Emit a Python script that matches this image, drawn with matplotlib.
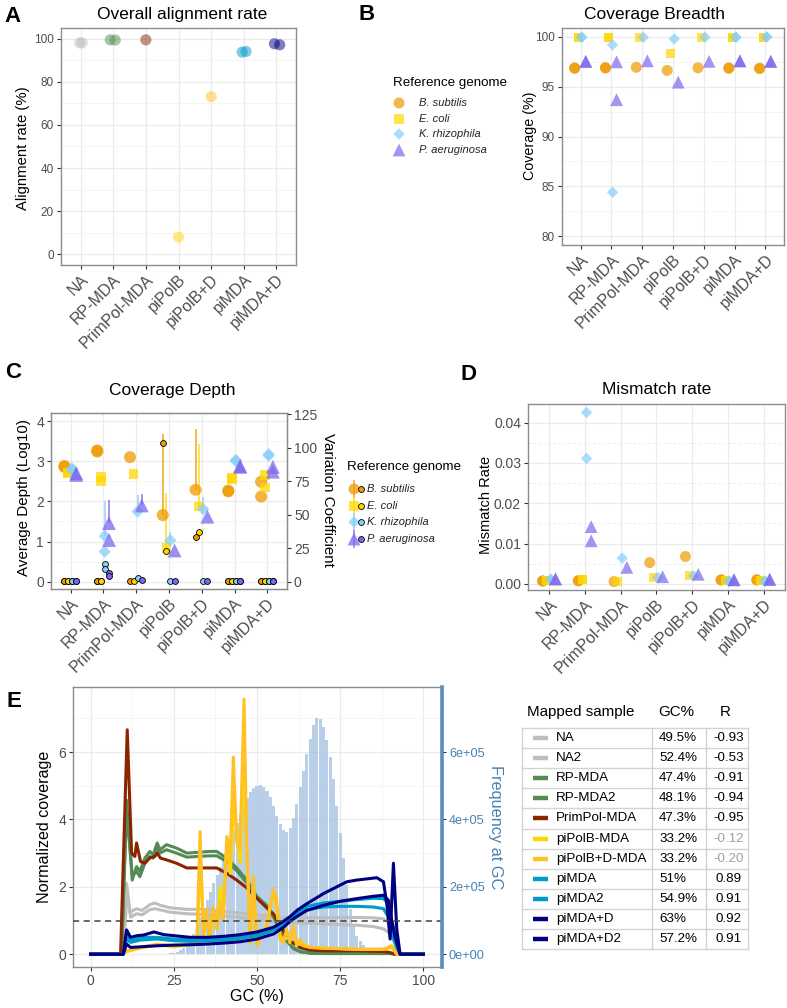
import matplotlib
matplotlib.use('Agg')
import matplotlib.pyplot as plt
from matplotlib.ticker import MultipleLocator
import numpy as np

plt.rcParams['font.family'] = ['Liberation Sans', 'DejaVu Sans']

W, H = 787, 1008
TICK_GREY = '#4D4D4D'
BORDER = '#8C8C8C'

# ---- shared categories ----
categories = ['NA', 'RP-MDA', 'PrimPol-MDA', 'piPolB', 'piPolB+D', 'piMDA', 'piMDA+D']
method_colors = ['#BEBEBE', '#548B54', '#8B2500', '#FFD700', '#FFC125', '#009ACD', '#000080']

species = ['B. subtilis', 'E. coli', 'K. rhizophila', 'P. aeruginosa']
species_colors = ['#EE9A00', '#FFD700', '#87CEFA', '#7B68EE']
species_markers = ['o', 's', 'D', '^']
dodge = [-0.19, -0.08, 0.04, 0.17]

# ---- A: overall alignment rate (replicates per method) ----
align_rate = [[98.1, 98.1], [99.5, 99.4], [99.5], [7.9], [73.1], [93.8, 94.1], [97.7, 97.2]]
align_jitter = [[-0.03, 0.05], [-0.09, 0.06], [0.0], [0.0], [0.0], [-0.05, 0.07], [-0.06, 0.1]]

# ---- B: coverage breadth (%) ----
breadth_bsub = [[96.87, 96.87], [96.9, 96.9], [96.95], [96.64], [96.9], [96.87, 96.87], [96.84, 96.84]]
breadth_ecoli = [[99.97, 99.97], [99.9, 99.9], [99.9], [98.29], [99.97], [99.97, 99.97], [99.9, 99.9]]
breadth_krhiz = [[99.97, 99.97], [99.2, 84.4], [99.97], [99.8], [99.97], [99.97, 99.97], [100.0, 100.0]]
breadth_paer = [[97.55, 97.55], [97.5, 93.7], [97.6], [95.46], [97.55], [97.6, 97.6], [97.55, 97.55]]

# ---- C: coverage depth (log10) with upper range, and variation coefficient ----
depth_bsub = [[2.88, 2.86], [3.27, 3.24], [3.10], [1.66], [2.29], [2.27, 2.25], [2.49, 2.12]]
depth_ecoli = [[2.72, 2.70], [2.60, 2.50], [2.68], [0.84], [1.87], [2.58, 2.56], [2.66, 2.35]]
depth_krhiz = [[2.82, 2.78], [1.14, 0.75], [1.75], [1.03], [1.81], [3.03, 3.00], [3.17, 3.14]]
depth_paer = [[2.70, 2.66], [1.46, 1.04], [1.90], [0.78], [1.62], [2.88, 2.86], [2.86, 2.74]]

depth_hi_bsub = [[None, None], [None, None], [None], [3.68], [3.80], [None, None], [None, None]]
depth_hi_ecoli = [[None, None], [None, None], [None], [2.20], [3.44], [None, None], [None, None]]
depth_hi_krhiz = [[None, None], [2.02, None], [2.16], [1.25], [2.12], [None, None], [None, None]]
depth_hi_paer = [[None, None], [2.04, None], [2.19], [None], [None], [None, None], [None, None]]

cv_bsub = [[0.3, 0.3], [0.3, 0.3], [0.3], [103.4], [33.3], [0.8, 0.5], [0.3, 0.3]]
cv_ecoli = [[0.3, 0.3], [0.3, 0.3], [0.3], [23.0], [37.5], [0.4, 0.4], [0.3, 0.3]]
cv_krhiz = [[0.3, 0.3], [13.4, 9.5], [2.7], [0.5], [0.8], [0.3, 0.3], [0.3, 0.3]]
cv_paer = [[0.3, 0.3], [6.9, 4.0], [1.5], [0.6], [0.6], [0.3, 0.3], [0.3, 0.3]]

# ---- D: mismatch rate ----
mismatch_bsub = [[0.00074, 0.00074], [0.0008, 0.0008], [0.0006], [0.0053], [0.0068], [0.001, 0.001], [0.001, 0.001]]
mismatch_ecoli = [[0.0009, 0.0009], [0.001, 0.001], [0.0007], [0.0016], [0.0022], [0.0008, 0.0008], [0.0008, 0.0008]]
mismatch_krhiz = [[0.0012, 0.0011], [0.0425, 0.0311], [0.0064], [0.0016], [0.002], [0.0006, 0.0007], [0.0006, 0.0007]]
mismatch_paer = [[0.0013, 0.0012], [0.0142, 0.0107], [0.0041], [0.0018], [0.0024], [0.001, 0.0011], [0.0012, 0.0011]]

# ---- E: GC bias ----
gc_bins = list(range(20, 87))
freq_at_gc = [0, 1000, 1000, 2000, 3000, 5000, 8000, 12000, 18000, 28000,
              42000, 60000, 85000, 110000, 135000, 160000, 185000, 210000, 235000, 260000,
              285000, 310000, 335000, 365000, 390000, 415000, 440000, 465000, 480000, 492000,
              500000, 502000, 496000, 485000, 468000, 440000, 410000, 385000, 368000, 364000,
              375000, 405000, 445000, 495000, 545000, 595000, 640000, 680000, 700000, 698000,
              675000, 635000, 585000, 520000, 440000, 360000, 285000, 205000, 135000, 85000,
              55000, 38000, 26000, 17000, 10000, 5000, 2000]

gc_NA = [0, 9.5, 10.8, 11.8, 13.8, 15.5, 17.8, 19.3, 21, 23.8, 28.9, 33.9, 38.9, 43.9, 48.9, 53, 57, 60, 65, 70, 75, 80, 85, 88, 89.5, 91, 92.5, 100]
cov_NA = [0, 0, 2.1, 1.25, 1.35, 1.3, 1.47, 1.52, 1.45, 1.38, 1.33, 1.33, 1.28, 1.23, 1.18, 1.12, 1.08, 1.07, 1.08, 1.08, 1.09, 1.09, 1.08, 1.05, 0.95, 0.6, 0, 0]
gc_NA2 = [0, 9.8, 11, 12, 13.8, 15.5, 17.8, 19.3, 23.8, 28.9, 33.9, 38.9, 43.9, 48.9, 53, 57, 60, 65, 70, 75, 80, 85, 88, 90, 91.5, 92.5, 100]
cov_NA2 = [0, 0, 1.9, 1.1, 1.2, 1.17, 1.32, 1.35, 1.25, 1.2, 1.18, 1.15, 1.1, 1.05, 1.0, 0.95, 0.93, 0.92, 0.9, 0.88, 0.86, 0.82, 0.75, 0.62, 0.3, 0, 0]
gc_RP = [0, 9.3, 10.8, 12.5, 13.8, 14.8, 16.3, 17.8, 18.8, 20.0, 20.8, 22.8, 25.8, 28.9, 31.9, 35.9, 37.9, 40.9, 43.9, 46.9, 49.9, 52.9, 55, 57, 59, 61, 63, 66, 70, 80, 90, 92, 100]
cov_RP = [0, 0, 4.57, 2.2, 2.6, 2.46, 2.85, 3.05, 2.95, 3.3, 3.1, 3.25, 3.15, 3.0, 3.02, 3.05, 3.05, 2.85, 2.56, 2.2, 1.72, 1.45, 1.15, 0.75, 0.4, 0.18, 0.08, 0.03, 0.02, 0.02, 0.02, 0, 0]
cov_RP2 = [0, 0, 4.3, 2.35, 2.45, 2.3, 2.7, 2.9, 2.85, 3.15, 3.0, 3.1, 3.0, 2.88, 2.9, 2.92, 2.92, 2.75, 2.48, 2.12, 1.68, 1.4, 1.1, 0.7, 0.38, 0.16, 0.07, 0.03, 0.02, 0.02, 0.02, 0, 0]
gc_PP = [0, 9.0, 11.0, 12.3, 13.3, 13.8, 15.0, 16.3, 17.8, 19.3, 20.0, 21.0, 22.8, 25.8, 28.9, 33.9, 37.9, 40.9, 43.9, 46.9, 49.9, 52.9, 54.9, 56.9, 59.9, 62.9, 66, 70, 80, 88, 90, 91.5, 92.5, 100]
cov_PP = [0, 0, 6.66, 3.0, 2.9, 3.3, 2.75, 2.7, 2.86, 2.9, 3.0, 2.85, 2.8, 2.7, 2.56, 2.56, 2.56, 2.4, 2.2, 1.97, 1.67, 1.38, 1.2, 0.85, 0.4, 0.2, 0.12, 0.1, 0.1, 0.08, 0.05, 0, 0, 0]
gc_PB = [0, 9.5, 11, 15, 20, 25, 30, 32, 33, 34, 35, 36, 37, 38, 39, 40, 41, 42, 43, 44, 45, 46, 47, 48, 49, 50, 51, 53, 54, 55, 56, 57, 58, 60, 61, 62, 64, 66, 70, 80, 88, 90.5, 92, 100]
cov_PB = [0, 0, 0.08, 0.18, 0.28, 0.22, 0.28, 0.4, 2.8, 0.6, 1.1, 0.6, 1.2, 0.9, 2.0, 1.4, 3.45, 2.4, 4.6, 3.6, 2.7, 6.0, 2.9, 0.5, 1.9, 0.4, 0.5, 0.9, 1.5, 1.8, 1.3, 0.5, 0.45, 0.5, 0.7, 0.3, 0.3, 0.2, 0.18, 0.14, 0.14, 0.2, 0, 0]
gc_PBD = [0, 9.5, 11, 15, 20, 25, 30, 31.9, 32.9, 33.9, 34.9, 35.7, 36.9, 37.9, 38.9, 39.9, 40.9, 41.9, 42.9, 43.9, 44.9, 46.1, 46.9, 47.9, 48.9, 49.9, 50.9, 52.9, 53.9, 54.9, 55.9, 56.9, 57.9, 58.9, 59.9, 60.9, 61.9, 62.9, 63.9, 66, 70, 80, 88, 90.5, 92, 100]
cov_PBD = [0, 0, 0.1, 0.2, 0.3, 0.25, 0.3, 0.35, 3.64, 0.49, 1.33, 0.5, 1.38, 0.74, 1.52, 1.03, 3.49, 2.8, 5.85, 3.3, 3.1, 7.57, 3.3, 0.34, 2.31, 0.25, 0.44, 0.74, 1.33, 1.92, 1.62, 0.44, 0.34, 0.74, 0.34, 0.84, 0.25, 0.44, 0.25, 0.2, 0.18, 0.15, 0.15, 0.25, 0, 0]
gc_PI = [0, 9.8, 10.8, 12, 15, 20, 25, 30, 35, 40, 45, 50, 53, 56, 58, 60, 62, 65, 70, 75, 80, 85, 88, 89.5, 90.5, 92, 93, 100]
cov_PI = [0, 0, 0.55, 0.4, 0.5, 0.5, 0.45, 0.43, 0.45, 0.48, 0.52, 0.6, 0.68, 0.8, 0.92, 1.08, 1.25, 1.42, 1.52, 1.57, 1.62, 1.66, 1.65, 1.5, 1.0, 0.4, 0, 0]
cov_PI2 = [0, 0, 0.45, 0.35, 0.42, 0.45, 0.4, 0.38, 0.4, 0.42, 0.47, 0.55, 0.64, 0.76, 0.88, 1.02, 1.18, 1.32, 1.4, 1.42, 1.42, 1.4, 1.35, 1.1, 0.6, 0.2, 0, 0]
gc_PID = [0, 9.8, 10.8, 12, 14, 16, 19, 22, 25, 30, 35, 40, 45, 50, 55, 58, 60, 62, 65, 70, 75, 77, 80, 86, 88, 89, 90, 91, 92, 93, 100]
cov_PID = [0, 0, 0.72, 0.5, 0.55, 0.57, 0.66, 0.58, 0.55, 0.5, 0.5, 0.53, 0.58, 0.66, 0.8, 0.98, 1.12, 1.3, 1.5, 1.8, 2.05, 2.15, 2.2, 2.27, 2.15, 1.5, 0.45, 2.7, 0.75, 0, 0]
gc_PID2 = [0, 9.8, 10.8, 12, 15, 20, 25, 30, 35, 40, 45, 50, 55, 58, 60, 62, 65, 70, 75, 80, 85, 88, 89.5, 90.5, 91.5, 93, 100]
cov_PID2 = [0, 0, 0.3, 0.2, 0.22, 0.25, 0.27, 0.28, 0.3, 0.33, 0.37, 0.45, 0.6, 0.8, 0.98, 1.12, 1.3, 1.45, 1.57, 1.65, 1.72, 1.75, 1.6, 1.0, 0.5, 0, 0]

table_samples = ['NA', 'NA2', 'RP-MDA', 'RP-MDA2', 'PrimPol-MDA', 'piPolB-MDA', 'piPolB+D-MDA', 'piMDA', 'piMDA2', 'piMDA+D', 'piMDA+D2']
table_gc = ['49.5%', '52.4%', '47.4%', '48.1%', '47.3%', '33.2%', '33.2%', '51%', '54.9%', '63%', '57.2%']
table_r = ['-0.93', '-0.53', '-0.91', '-0.94', '-0.95', '-0.12', '-0.20', '0.89', '0.91', '0.92', '0.91']
sample_colors = ['#BEBEBE', '#BEBEBE', '#548B54', '#548B54', '#8B2500', '#FFD700', '#FFC125', '#009ACD', '#009ACD', '#000080', '#000080']


def px_axes(fig, left, top, right, bottom):
    return fig.add_axes([left / W, 1 - bottom / H, (right - left) / W, (bottom - top) / H])


def style_panel(ax, ysize):
    for s in ax.spines.values():
        s.set_color(BORDER)
        s.set_linewidth(1.0)
    ax.grid(True, which='major', color='#EBEBEB', lw=0.9)
    ax.grid(True, which='minor', color='#F4F4F4', lw=0.6)
    ax.set_axisbelow(True)
    ax.tick_params(colors='#333333', labelcolor=TICK_GREY, labelsize=ysize, length=3, width=0.8, pad=2)
    ax.tick_params(which='minor', length=0)


def category_axis(ax):
    ax.set_xlim(0.4, 7.6)
    ax.set_xticks(np.arange(1, len(categories) + 1))
    ax.set_xticklabels(categories, rotation=45, ha='right', rotation_mode='anchor', fontsize=11.5)
    ax.xaxis.grid(False, which='minor')


def dodge_scatter(ax, values, sizes, alpha):
    for k, per_cat in enumerate(values):
        for i, vals in enumerate(per_cat):
            ax.scatter([i + 1 + dodge[k]] * len(vals), vals, marker=species_markers[k], s=sizes[k],
                       color=species_colors[k], alpha=alpha, edgecolors='none', zorder=3)


fig = plt.figure(figsize=(W / 100, H / 100), dpi=100)

# ---------- A ----------
axA = px_axes(fig, 61, 28, 296, 265)
style_panel(axA, 8.5)
for i, vals in enumerate(align_rate):
    axA.scatter([i + 1 + j for j in align_jitter[i]], vals, s=65, color=method_colors[i],
                alpha=0.5, edgecolors='none', zorder=3)
axA.set_ylim(-5, 105)
axA.yaxis.set_major_locator(MultipleLocator(20))
axA.yaxis.set_minor_locator(MultipleLocator(10))
category_axis(axA)

# ---------- B ----------
axB = px_axes(fig, 562, 28, 784, 245)
style_panel(axB, 8.5)
dodge_scatter(axB, [breadth_bsub, breadth_ecoli, breadth_krhiz, breadth_paer], [63, 42, 34, 85], 0.7)
axB.set_ylim(79.1, 100.9)
axB.yaxis.set_major_locator(MultipleLocator(5))
axB.yaxis.set_minor_locator(MultipleLocator(2.5))
category_axis(axB)

# ---------- C ----------
axC = px_axes(fig, 51, 413, 287, 589)
style_panel(axC, 10)
depths = [depth_bsub, depth_ecoli, depth_krhiz, depth_paer]
depth_his = [depth_hi_bsub, depth_hi_ecoli, depth_hi_krhiz, depth_hi_paer]
for k in range(4):
    for i in range(len(categories)):
        for v, hi in zip(depths[k][i], depth_his[k][i]):
            if hi is not None:
                axC.vlines(i + 1 + dodge[k], v, hi, color=species_colors[k], alpha=0.75, lw=1.3, zorder=2)
dodge_scatter(axC, depths, [75, 48, 40, 100], 0.75)
ylimC = (-0.18, 4.2)
axC.set_ylim(*ylimC)
axC.yaxis.set_major_locator(MultipleLocator(1))
axC.yaxis.set_minor_locator(MultipleLocator(0.5))
category_axis(axC)
cv_scale = 30
axC2 = axC.twinx()
axC2.set_ylim(ylimC[0] * cv_scale, ylimC[1] * cv_scale)
axC2.set_yticks([0, 25, 50, 75, 100, 125])
for s in axC2.spines.values():
    s.set_color(BORDER)
axC2.tick_params(colors='#333333', labelcolor=TICK_GREY, labelsize=10, length=3, width=0.8, pad=2)
cvs = [cv_bsub, cv_ecoli, cv_krhiz, cv_paer]
for k in range(4):
    for i in range(len(categories)):
        vals = cvs[k][i]
        axC2.scatter([i + 1 + dodge[k]] * len(vals), vals, s=18, color=species_colors[k],
                     edgecolors='black', linewidths=0.6, zorder=4)

# ---------- D ----------
axD = px_axes(fig, 528, 404, 785, 590)
style_panel(axD, 10)
axD.grid(True, which='minor', color='#E8E8E8', lw=0.6, ls=(0, (3, 3)))
axD.xaxis.grid(False, which='minor')
dodge_scatter(axD, [mismatch_bsub, mismatch_ecoli, mismatch_krhiz, mismatch_paer], [63, 42, 34, 85], 0.7)
axD.set_ylim(-0.0015, 0.0446)
axD.yaxis.set_major_locator(MultipleLocator(0.01))
axD.yaxis.set_minor_locator(MultipleLocator(0.005))
axD.yaxis.set_major_formatter(matplotlib.ticker.FormatStrFormatter('%.2f'))
category_axis(axD)

# ---------- E ----------
axE = px_axes(fig, 73, 687, 442, 967)
style_panel(axE, 10)
freq_scale = 1e5
axE.bar(gc_bins, [f / freq_scale for f in freq_at_gc], width=0.92, color='#A7C4E2', alpha=0.8,
        edgecolor='none', zorder=1)
lines = [(gc_NA, cov_NA), (gc_NA2, cov_NA2), (gc_RP, cov_RP), (gc_RP, cov_RP2), (gc_PP, cov_PP),
         (gc_PB, cov_PB), (gc_PBD, cov_PBD), (gc_PI, cov_PI), (gc_PI, cov_PI2), (gc_PID, cov_PID),
         (gc_PID2, cov_PID2)]
for (xs, ys), c in zip(lines, sample_colors):
    axE.plot(xs, ys, color=c, lw=2.2, zorder=3, solid_joinstyle='round')
axE.axhline(1, color='#404040', lw=1.1, ls=(0, (4, 3)), zorder=4)
ylimE = (-0.38, 7.93)
axE.set_xlim(-5.3, 105.6)
axE.set_ylim(*ylimE)
axE.xaxis.set_major_locator(MultipleLocator(25))
axE.xaxis.set_minor_locator(MultipleLocator(12.5))
axE.yaxis.set_major_locator(MultipleLocator(2))
axE.yaxis.set_minor_locator(MultipleLocator(1))
axE2 = axE.twinx()
axE2.set_ylim(ylimE[0] * freq_scale, ylimE[1] * freq_scale)
axE2.set_yticks([0, 2e5, 4e5, 6e5])
axE2.set_yticklabels(['0e+00', '2e+05', '4e+05', '6e+05'])
for name, s in axE2.spines.items():
    s.set_visible(name == 'right')
axE2.spines['right'].set_color('#5B8DBF')
axE2.spines['right'].set_linewidth(2.6)
axE2.tick_params(colors='#333333', labelcolor='#4682B4', labelsize=9.2, length=3, width=0.8, pad=2)

# ---------- overlay: titles, labels, legends, table ----------
ov = fig.add_axes([0, 0, 1, 1])
ov.set_xlim(0, W)
ov.set_ylim(H, 0)
ov.axis('off')
ov.patch.set_visible(False)

for letter, x, y in [('A', 4, 22), ('B', 358, 20), ('C', 5, 378), ('D', 460, 380), ('E', 7, 707)]:
    ov.text(x, y, letter, fontsize=16, fontweight='bold', va='baseline', ha='left')

for title, x, y in [('Overall alignment rate', 182, 15), ('Coverage Breadth', 654, 15),
                    ('Coverage Depth', 172, 390), ('Mismatch rate', 657, 390)]:
    ov.text(x, y, title, fontsize=12.5, ha='center', va='center')

ov.text(23, 148, 'Alignment rate (%)', fontsize=10.7, rotation=90, ha='center', va='center')
ov.text(530, 136, 'Coverage (%)', fontsize=10.3, rotation=90, ha='center', va='center')
ov.text(24, 497, 'Average Depth (Log10)', fontsize=10.9, rotation=90, ha='center', va='center')
ov.text(328, 500, 'Variation Coefficient', fontsize=10.9, rotation=270, ha='center', va='center')
ov.text(486, 505, 'Mismatch Rate', fontsize=10.5, rotation=90, ha='center', va='center')
ov.text(45, 827, 'Normalized coverage', fontsize=11.6, rotation=90, ha='center', va='center')
ov.text(257, 997, 'GC (%)', fontsize=11.6, ha='center', va='center')
ov.text(496, 827, 'Frequency at GC', fontsize=11.7, rotation=270, ha='center', va='center', color='#4682B4')

# legend B
ov.text(393, 83, 'Reference genome', fontsize=9.6, ha='left', va='center')
for k, y in enumerate([103, 119, 134, 150]):
    ov.scatter(399, y, marker=species_markers[k], s=[63, 42, 34, 85][k], color=species_colors[k],
               alpha=0.7, edgecolors='none', clip_on=False)
    ov.text(419, y, species[k], fontsize=8, style='italic', ha='left', va='center', color='#222222')

# legend C
ov.text(347, 467, 'Reference genome', fontsize=9.6, ha='left', va='center')
for k, y in enumerate([489, 506, 522, 539]):
    ov.plot([354, 354], [y - 8, y + 8], color=species_colors[k], alpha=0.75, lw=1.3)
    ov.scatter(354, y, marker=species_markers[k], s=[63, 42, 34, 85][k], color=species_colors[k],
               alpha=0.75, edgecolors='none', clip_on=False)
    ov.scatter(361, y, s=18, color=species_colors[k], edgecolors='black', linewidths=0.6, clip_on=False)
    ov.text(367, y, species[k], fontsize=8, style='italic', ha='left', va='center', color='#222222')

# table for E
tl, tr, tt = 522, 748, 728
row_h = 20.1
tb = tt + row_h * len(table_samples)
ov.text(527, 712, 'Mapped sample', fontsize=10.9, ha='left', va='center')
ov.text(658, 712, 'GC%', fontsize=10.9, ha='left', va='center')
ov.text(725, 712, 'R', fontsize=10.9, ha='center', va='center')
grid_c = '#D3D3D3'
for i in range(len(table_samples) + 1):
    ov.plot([tl, tr], [tt + i * row_h] * 2, color=grid_c, lw=1.0)
for x in [tl, 652, 706, tr]:
    ov.plot([x, x], [tt, tb], color=grid_c, lw=1.0)
for i, name in enumerate(table_samples):
    y = tt + row_h * (i + 0.5)
    ov.plot([533, 548], [y, y], color=sample_colors[i], lw=3.2, solid_capstyle='butt')
    ov.text(556, y, name, fontsize=9.6, ha='left', va='center')
    ov.text(659, y, table_gc[i], fontsize=9.6, ha='left', va='center')
    r_color = '#A0A0A0' if 'piPolB' in name else 'black'
    ov.text(729, y, table_r[i], fontsize=9.6, ha='center', va='center', color=r_color)

fig.savefig('out.png', dpi=100)
